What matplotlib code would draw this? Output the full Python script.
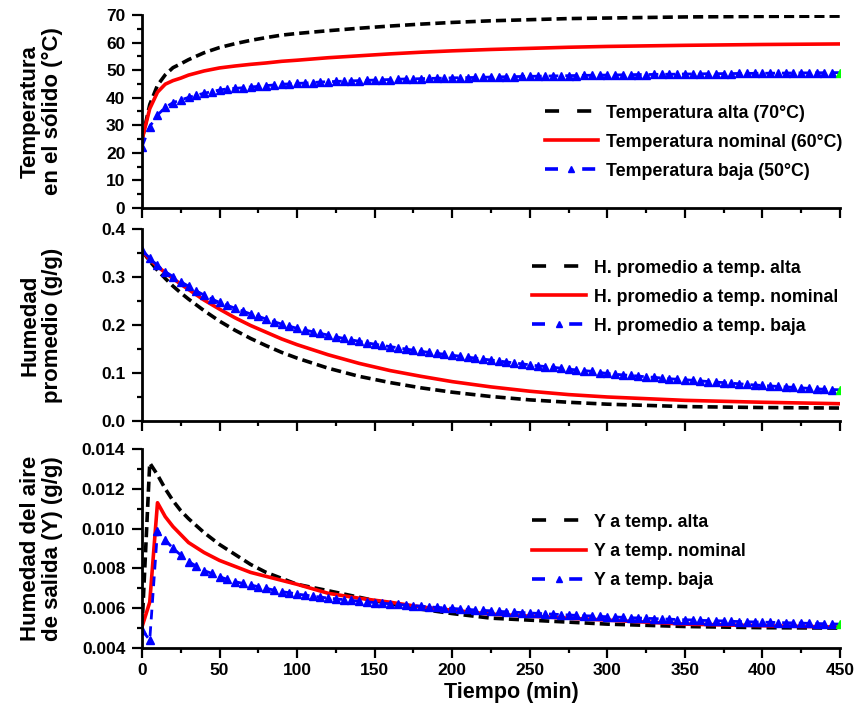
import numpy as np
import matplotlib
matplotlib.use('Agg')
import matplotlib.pyplot as plt
from matplotlib.lines import Line2D
from matplotlib.ticker import MultipleLocator, FormatStrFormatter

plt.rcParams['font.family'] = ['Liberation Sans', 'DejaVu Sans']
plt.rcParams['font.weight'] = 'bold'
plt.rcParams['axes.labelweight'] = 'bold'

# tiempos (min)
t_line = [0, 5, 10, 15, 20, 25, 30, 40, 50, 60, 70, 80, 90, 100, 120, 140,
          160, 180, 200, 225, 250, 275, 300, 350, 400, 450]
t_tri = np.arange(0, 451, 5)

# temperatura en el sólido (°C)
temp_alta = [24.7, 37.5, 44.5, 48.3, 50.9, 52.3, 53.8, 56.3, 58.2, 59.6, 60.8, 61.8, 62.7,
             63.3, 64.3, 65.2, 66.0, 66.7, 67.3, 67.9, 68.3, 68.7, 68.9, 69.3, 69.5, 69.6]
temp_nominal = [24.7, 36.0, 42.0, 44.9, 46.2, 47.1, 48.2, 49.7, 50.8, 51.5, 52.1, 52.6, 53.2,
                53.6, 54.5, 55.2, 55.9, 56.5, 57.0, 57.5, 57.9, 58.3, 58.6, 59.0, 59.3, 59.5]
temp_baja = [22.2, 29.5, 33.7, 36.5, 38.2, 39.2, 40.1, 40.9, 41.6, 42.2,
             42.8, 43.2, 43.4, 43.6, 43.9, 44.1, 44.4, 44.6, 44.9, 45.0,
             45.2, 45.3, 45.5, 45.7, 45.8, 45.9, 46.0, 46.1, 46.2, 46.3,
             46.4, 46.5, 46.6, 46.7, 46.8, 46.85, 46.9, 47.0, 47.05, 47.1,
             47.2, 47.25, 47.3, 47.35, 47.4, 47.5, 47.55, 47.6, 47.65, 47.7,
             47.75, 47.8, 47.85, 47.9, 47.95, 48.0, 48.05, 48.1, 48.15, 48.2,
             48.2, 48.25, 48.3, 48.35, 48.4, 48.4, 48.45, 48.5, 48.5, 48.55,
             48.6, 48.6, 48.65, 48.7, 48.7, 48.75, 48.75, 48.8, 48.8, 48.85,
             48.85, 48.9, 48.9, 48.95, 48.95, 49.0, 49.0, 49.05, 49.05, 49.1,
             49.1]

# humedad promedio (g/g)
hum_alta = [0.355, 0.333, 0.314, 0.297, 0.281, 0.267, 0.254, 0.230, 0.208, 0.189, 0.172, 0.157, 0.143,
            0.131, 0.110, 0.093, 0.080, 0.069, 0.060, 0.051, 0.044, 0.039, 0.035, 0.030, 0.028, 0.027]
hum_nominal = [0.355, 0.336, 0.322, 0.309, 0.297, 0.285, 0.274, 0.252, 0.233, 0.215, 0.199, 0.185, 0.171,
               0.159, 0.138, 0.120, 0.105, 0.093, 0.082, 0.071, 0.062, 0.055, 0.050, 0.043, 0.039, 0.036]
hum_baja = [0.356, 0.339, 0.324, 0.311, 0.301, 0.290, 0.281, 0.271, 0.2625, 0.254,
            0.247, 0.241, 0.235, 0.229, 0.223, 0.218, 0.2125, 0.207, 0.202, 0.1975,
            0.193, 0.1895, 0.186, 0.1825, 0.179, 0.1755, 0.172, 0.169, 0.166, 0.163,
            0.160, 0.1575, 0.155, 0.1525, 0.150, 0.1475, 0.145, 0.143, 0.141, 0.139,
            0.137, 0.135, 0.133, 0.131, 0.129, 0.127, 0.125, 0.123, 0.121, 0.119,
            0.117, 0.115, 0.1135, 0.112, 0.110, 0.108, 0.1065, 0.105, 0.1035, 0.101,
            0.099, 0.0975, 0.096, 0.095, 0.0935, 0.092, 0.091, 0.0895, 0.088, 0.087,
            0.086, 0.0848, 0.0835, 0.0822, 0.081, 0.080, 0.0788, 0.0775, 0.0763, 0.075,
            0.074, 0.073, 0.072, 0.071, 0.070, 0.069, 0.068, 0.067, 0.066, 0.0655,
            0.065]

# humedad del aire de salida Y (g/g)
y_alta = [0.0050, 0.0133, 0.0127, 0.0120, 0.0114, 0.0109, 0.0105, 0.0098, 0.0092, 0.0087, 0.0082, 0.0078,
          0.0075, 0.0072, 0.00688, 0.00655, 0.00622, 0.00595, 0.00573, 0.0055, 0.0054, 0.0053, 0.0052,
          0.00508, 0.00502, 0.0050]
y_nominal = [0.00506, 0.0063, 0.0113, 0.0106, 0.0101, 0.0097, 0.0093, 0.0088, 0.0084, 0.0081, 0.0078, 0.0076,
             0.0074, 0.0072, 0.00675, 0.0065, 0.0063, 0.00606, 0.0059, 0.0057, 0.0056, 0.0055, 0.0054,
             0.0052, 0.00512, 0.00505]
y_baja = [0.0049, 0.0044, 0.0099, 0.00943, 0.00901, 0.00867, 0.00834, 0.00812, 0.00789, 0.00775,
          0.00758, 0.00745, 0.00733, 0.00725, 0.00717, 0.00708, 0.00700, 0.00691, 0.00683, 0.00678,
          0.00671, 0.00666, 0.00661, 0.00656, 0.00651, 0.00647, 0.00643, 0.00639, 0.00635, 0.00632,
          0.00628, 0.00625, 0.00622, 0.00619, 0.00616, 0.00613, 0.00610, 0.00607, 0.00604, 0.00602,
          0.00599, 0.00596, 0.00594, 0.00591, 0.00589, 0.00587, 0.00584, 0.00582, 0.00580, 0.00578,
          0.00576, 0.00574, 0.00572, 0.00570, 0.00568, 0.00566, 0.00564, 0.00562, 0.00561, 0.00559,
          0.00557, 0.00556, 0.00554, 0.00552, 0.00551, 0.00549, 0.00548, 0.00546, 0.00545, 0.00543,
          0.00542, 0.00541, 0.00539, 0.00538, 0.00537, 0.00536, 0.00534, 0.00533, 0.00532, 0.00531,
          0.00530, 0.00529, 0.00528, 0.00527, 0.00526, 0.00525, 0.00524, 0.00523, 0.00522, 0.00521,
          0.00520]

labels_temp = ['Temperatura alta (70°C)', 'Temperatura nominal (60°C)', 'Temperatura baja (50°C)']
labels_hum = ['H. promedio a temp. alta', 'H. promedio a temp. nominal', 'H. promedio a temp. baja']
labels_y = ['Y a temp. alta', 'Y a temp. nominal', 'Y a temp. baja']

LW = 2.6
BLUE = '#0000ff'


def draw_panel(ax, alta, nominal, baja):
    ax.plot(t_line, alta, color='black', lw=LW, dashes=(2.8, 1.4))
    ax.plot(t_line, nominal, color='#ff0000', lw=LW)
    ax.plot(t_tri, baja, color=BLUE, lw=2.0, dashes=(3.5, 2.5), marker='^', markersize=6,
            markevery=range(len(t_tri) - 1))
    ax.plot(t_tri[-1:], baja[-1:], ls='none', marker='^', markersize=6, color='#00ff00')


def style_axis(ax):
    for s in ['top', 'right']:
        ax.spines[s].set_visible(False)
    for s in ['left', 'bottom']:
        ax.spines[s].set_linewidth(2.0)
    ax.set_xlim(0, 450)
    ax.xaxis.set_major_locator(MultipleLocator(50))
    ax.xaxis.set_minor_locator(MultipleLocator(25))
    ax.tick_params(which='major', direction='out', length=7, width=1.6, labelsize=12.5, pad=5)
    ax.tick_params(which='minor', direction='out', length=3.6, width=1.6)
    ax.tick_params(axis='x', which='major', pad=3.5)


def add_legend(ax, labels, x, y):
    handles = [
        Line2D([], [], color='black', lw=LW, dashes=(3.9, 5.0)),
        Line2D([], [], color='#ff0000', lw=LW),
        Line2D([], [], color=BLUE, lw=LW, dashes=(3.6, 6.7), marker='^', markersize=5),
    ]
    ax.legend(handles, labels, loc='upper left', bbox_to_anchor=(x, y), frameon=False,
              fontsize=12.8, handlelength=3.0, handletextpad=0.45, labelspacing=0.68,
              borderpad=0, borderaxespad=0, numpoints=1)


fig = plt.figure(figsize=(8.61, 7.11), dpi=100)
ax1 = fig.add_axes([0.1649, 0.7075, 0.8107, 0.2714])
ax2 = fig.add_axes([0.1649, 0.4079, 0.8107, 0.2700])
ax3 = fig.add_axes([0.1649, 0.0886, 0.8107, 0.2799])

# panel 1
draw_panel(ax1, temp_alta, temp_nominal, temp_baja)
style_axis(ax1)
ax1.set_ylim(0, 70)
ax1.yaxis.set_major_locator(MultipleLocator(10))
ax1.yaxis.set_minor_locator(MultipleLocator(5))
ax1.set_xticklabels([])
ax1.set_ylabel('Temperatura\nen el sólido (°C)', fontsize=16, linespacing=1.1)
ax1.yaxis.set_label_coords(-0.113, 0.5)
add_legend(ax1, labels_temp, 0.577, 0.536)

# panel 2
draw_panel(ax2, hum_alta, hum_nominal, hum_baja)
style_axis(ax2)
ax2.set_ylim(0, 0.4)
ax2.yaxis.set_major_locator(MultipleLocator(0.1))
ax2.yaxis.set_minor_locator(MultipleLocator(0.05))
ax2.yaxis.set_major_formatter(FormatStrFormatter('%.1f'))
ax2.set_xticklabels([])
ax2.set_ylabel('Humedad\npromedio (g/g)', fontsize=16, linespacing=1.1)
ax2.yaxis.set_label_coords(-0.113, 0.5)
add_legend(ax2, labels_hum, 0.559, 0.841)

# panel 3
draw_panel(ax3, y_alta, y_nominal, y_baja)
style_axis(ax3)
ax3.set_ylim(0.004, 0.014)
ax3.yaxis.set_major_locator(MultipleLocator(0.002))
ax3.yaxis.set_minor_locator(MultipleLocator(0.001))
ax3.yaxis.set_major_formatter(FormatStrFormatter('%.3f'))
ax3.set_ylabel('Humedad del aire\nde salida (Y) (g/g)', fontsize=16, linespacing=1.1)
ax3.yaxis.set_label_coords(-0.113, 0.5)
ax3.set_xlabel('Tiempo (min)', fontsize=15.5)
ax3.xaxis.set_label_coords(0.529, -0.17)
add_legend(ax3, labels_y, 0.559, 0.675)

fig.savefig('out.png', dpi=100)
